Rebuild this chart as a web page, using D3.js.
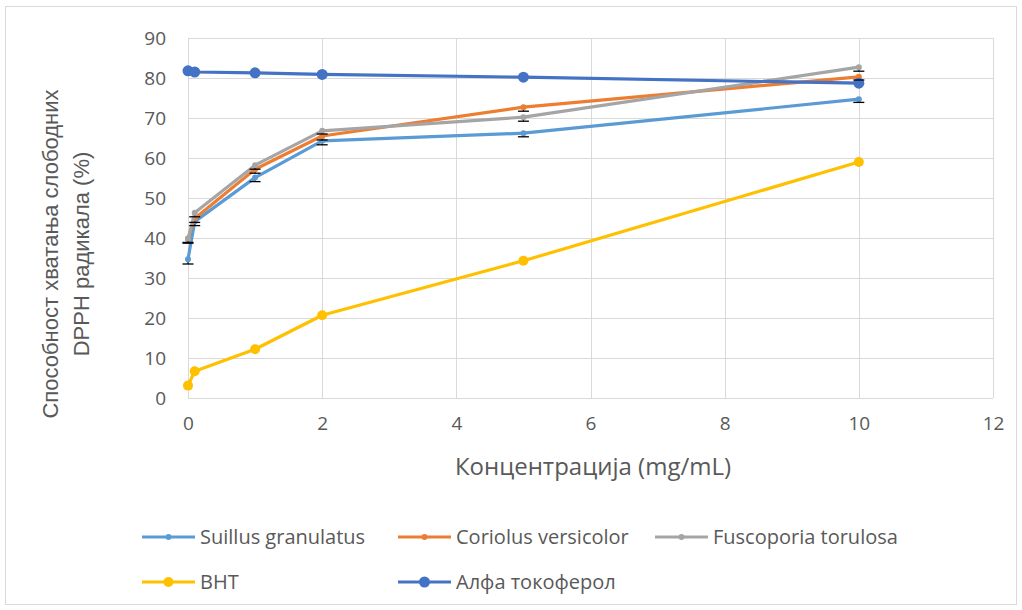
<!DOCTYPE html>
<html><head><meta charset="utf-8">
<script src="https://cdn.jsdelivr.net/npm/d3@7"></script>
<style>body{margin:0;background:#fff;} svg{display:block;}</style>
</head><body>
<svg id="c" width="1022" height="610"></svg>
<script>
const concentrations = [0, 0.1, 1, 2, 5, 10];
const seriesNames = ["Suillus granulatus", "Coriolus versicolor", "Fuscoporia torulosa", "BHT", "Алфа токоферол"];
const suillus = [34.7, 44.1, 55.1, 64.3, 66.2, 74.7];
const coriolus = [39.9, 44.9, 57.2, 65.5, 72.7, 80.3];
const fuscoporia = [39.7, 46.3, 58.2, 66.8, 70.2, 82.7];
const bht = [3.1, 6.7, 12.2, 20.7, 34.3, 59.0];
const alfa = [81.8, 81.5, 81.3, 80.9, 80.2, 78.7];
const suillusErr = [1.2, 1.0, 1.0, 1.0, 0.9, 0.8];
const coriolusErr = [1.0, 1.0, 1.0, 1.0, 1.0, 0.8];
const fuscoporiaErr = [1.0, 1.0, 1.0, 0.8, 1.0, 1.0];
const xTicks = [0, 2, 4, 6, 8, 10, 12];
const yTicks = [0, 10, 20, 30, 40, 50, 60, 70, 80, 90];
const xTitle = "Концентрација (mg/mL)";
const yTitle = ["Способност хватања слободних", "DPPH радикала (%)"];

const colors = ["#5B9BD5", "#ED7D31", "#A5A5A5", "#FFC000", "#4472C4"];
const radii = [3, 3, 3, 5, 5.5];
const series = [
  {name: seriesNames[0], values: suillus, err: suillusErr},
  {name: seriesNames[1], values: coriolus, err: coriolusErr},
  {name: seriesNames[2], values: fuscoporia, err: fuscoporiaErr},
  {name: seriesNames[3], values: bht, err: null},
  {name: seriesNames[4], values: alfa, err: null}
];

const svg = d3.select("#c");
const font = "'Open Sans', sans-serif";
const textCol = "#595959";
svg.append("rect").attr("x", 5.5).attr("y", 6.5).attr("width", 1011).attr("height", 598)
  .attr("fill", "#fff").attr("stroke", "#d9d9d9");

const x = d3.scaleLinear().domain([0, 12]).range([188, 993]);
const y = d3.scaleLinear().domain([0, 90]).range([398, 38]);

const g = svg.append("g");
g.selectAll(".hg").data(yTicks).join("line")
  .attr("x1", x(0)).attr("x2", x(12))
  .attr("y1", d => Math.round(y(d)) + 0.5).attr("y2", d => Math.round(y(d)) + 0.5)
  .attr("stroke", "#d9d9d9").attr("stroke-width", 1);
g.selectAll(".vg").data(xTicks).join("line")
  .attr("y1", y(0)).attr("y2", y(90))
  .attr("x1", d => Math.round(x(d)) + 0.5).attr("x2", d => Math.round(x(d)) + 0.5)
  .attr("stroke", "#d9d9d9").attr("stroke-width", 1);

const yAxis = svg.append("g").attr("transform", `translate(${x(0)},0)`)
  .call(d3.axisLeft(y).tickValues(yTicks).tickSize(0).tickPadding(22));
const xAxis = svg.append("g").attr("transform", `translate(0,${y(0)})`)
  .call(d3.axisBottom(x).tickValues(xTicks).tickSize(0).tickPadding(19));
[yAxis, xAxis].forEach(a => {
  a.select(".domain").remove();
  a.selectAll("text").attr("fill", textCol).style("font-family", font).style("font-size", "19px");
});

const line = d3.line().x((d, i) => x(concentrations[i])).y(d => y(d));
series.forEach((s, si) => {
  svg.append("path").datum(s.values).attr("d", line)
    .attr("fill", "none").attr("stroke", colors[si]).attr("stroke-width", 3.2)
    .attr("stroke-linejoin", "round").attr("stroke-linecap", "round");
  svg.append("g").selectAll("circle").data(s.values).join("circle")
    .attr("cx", (d, i) => x(concentrations[i])).attr("cy", d => y(d))
    .attr("r", radii[si]).attr("fill", colors[si]);
});

// error bars (minus direction)
series.forEach((s) => {
  if (!s.err) return;
  const eg = svg.append("g").attr("stroke", "#000").attr("stroke-width", 1.3);
  s.values.forEach((v, i) => {
    const cx = x(concentrations[i]);
    const c = y(v), lo = y(v - s.err[i]);
    eg.append("line").attr("x1", cx).attr("x2", cx).attr("y1", c + 3).attr("y2", lo);
    eg.append("line").attr("x1", cx - 5.5).attr("x2", cx + 5.5).attr("y1", lo).attr("y2", lo);
  });
});

svg.append("text").attr("x", 593).attr("y", 475).attr("text-anchor", "middle")
  .attr("fill", textCol).style("font-family", font).style("font-size", "24px").text(xTitle);
const yt = svg.append("text").attr("transform", "translate(0,254) rotate(-90)")
  .attr("text-anchor", "middle").attr("fill", textCol)
  .style("font-family", "'Liberation Sans', Arial, sans-serif").style("font-size", "22px");
yt.append("tspan").attr("x", 0).attr("y", 58).text(yTitle[0]);
yt.append("tspan").attr("x", 0).attr("y", 89).text(yTitle[1]);

const legendPos = [[142, 537], [398, 537], [655, 537], [142, 582], [398, 582]];
series.forEach((s, si) => {
  const [lx, ly] = legendPos[si];
  const lg = svg.append("g");
  lg.append("line").attr("x1", lx).attr("x2", lx + 53).attr("y1", ly).attr("y2", ly)
    .attr("stroke", colors[si]).attr("stroke-width", 3);
  lg.append("circle").attr("cx", lx + 26.5).attr("cy", ly).attr("r", radii[si]).attr("fill", colors[si]);
  lg.append("text").attr("x", lx + 58).attr("y", ly).attr("dy", "0.35em")
    .attr("fill", textCol).style("font-family", font).style("font-size", "20px").text(s.name);
});
</script>
</body></html>
